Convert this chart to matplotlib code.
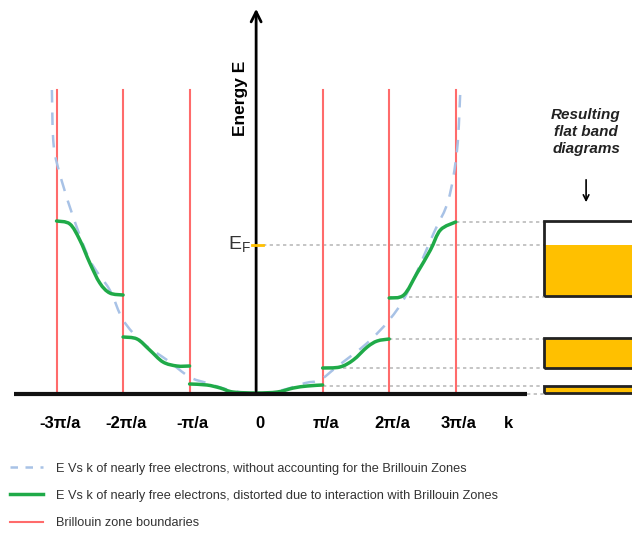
import matplotlib
matplotlib.use("Agg")
import matplotlib.pyplot as plt
from matplotlib.lines import Line2D
from matplotlib.patches import Rectangle, PathPatch
from matplotlib.path import Path

# k in units of pi/a, E in arbitrary units (0 = bottom of the band)
free_k = [-3.07, -3.05, -2.98, -2.77, -2.50, -2.20, -2.00, -1.70, -1.34, -1.00, -0.74, -0.40, 0.0,
          0.40, 0.74, 0.96, 1.21, 1.67, 2.00, 2.27, 2.67, 2.89, 3.02, 3.07]
free_E = [304, 254, 227, 181, 134, 104, 74, 51, 34, 17, 11, 4, 0,
          4, 11, 14, 27, 51, 74, 101, 161, 194, 244, 304]

bands = [
    ([-3.0, -2.8, -2.65, -2.5, -2.35, -2.2, -2.0], [173, 170, 154, 131, 111, 101, 99]),
    ([-2.0, -1.79, -1.6, -1.4, -1.19, -1.0], [57, 55, 44, 32, 28, 28]),
    ([-1.0, -0.74, -0.54, -0.35, 0.0, 0.32, 0.56, 0.77, 1.0], [10, 9, 6, 2, 1, 2, 6, 8, 9]),
    ([1.0, 1.26, 1.46, 1.67, 1.82, 2.0], [26, 27, 34, 47, 53, 55]),
    ([2.0, 2.22, 2.42, 2.62, 2.77, 3.0], [96, 99, 121, 144, 164, 172]),
]

zone_k = [-3, -2, -1, 1, 2, 3]
zone_top = 304

tick_k = [-3, -2, -1, 0, 1, 2, 3]
tick_labels = ["-3π/a", "-2π/a", "-π/a", "0", "π/a", "2π/a", "3π/a"]

E_fermi = 149
# gray guide lines: (level, start k)
guides = [(172, 3.0), (149, 0.1), (97, 2.0), (55, 2.0), (26, 1.0), (8, 1.0)]
# flat band boxes: (bottom, top, filled up to)
flat_bands = [(98, 173, 149), (26, 56, 56), (1, 8, 8)]

font = "Liberation Sans"


def smooth_path(xs, ys):
    # cubic bezier segments through the read points (Catmull-Rom tangents)
    pts = list(zip(xs, ys))
    verts = [pts[0]]
    codes = [Path.MOVETO]
    n = len(pts)
    for i in range(n - 1):
        p0 = pts[max(i - 1, 0)]
        p1 = pts[i]
        p2 = pts[i + 1]
        p3 = pts[min(i + 2, n - 1)]
        c1 = (p1[0] + (p2[0] - p0[0]) / 6, p1[1] + (p2[1] - p0[1]) / 6)
        c2 = (p2[0] - (p3[0] - p1[0]) / 6, p2[1] - (p3[1] - p1[1]) / 6)
        verts += [c1, c2, p2]
        codes += [Path.CURVE4] * 3
    return Path(verts, codes)


fig = plt.figure(figsize=(6.32, 5.45), dpi=100)
ax = fig.add_axes([0, 0, 1, 1])
ax.set_xlim(-3.85, 5.65)
ax.set_ylim(-151, 394)

red = "#ff6b6b"
green = "#1faa48"
blue = "#a8c2e6"
orange = "#ffc000"

for k in zone_k:
    ax.plot([k, k], [0, zone_top], color=red, lw=1.5, zorder=2)

ax.add_patch(PathPatch(smooth_path(free_k, free_E), fill=False, edgecolor=blue, lw=1.8,
                       linestyle=(0, (5, 4)), zorder=3))
for bk, bE in bands:
    ax.add_patch(PathPatch(smooth_path(bk, bE), fill=False, edgecolor=green, lw=2.5,
                           capstyle="round", zorder=4))

box_x = 4.32
for lvl, k0 in guides:
    ax.plot([k0, box_x], [lvl, lvl], color="#bbbbbb", lw=1.2, ls=(0, (2, 2)), zorder=1)
ax.plot([4.07, box_x], [0, 0], color="#bbbbbb", lw=1.2, ls=(0, (2, 2)), zorder=1)

for lo, hi, fill in flat_bands:
    ax.add_patch(Rectangle((box_x, lo), 2, fill - lo, facecolor=orange, edgecolor="none", zorder=2))
    ax.add_patch(Rectangle((box_x, lo), 2, hi - lo, facecolor="none", edgecolor="#222222", lw=2, zorder=3))

# axes: baseline and energy arrow
ax.plot([-3.64, 4.07], [0, 0], color="#111111", lw=3, zorder=5, solid_capstyle="butt")
ax.annotate("", xy=(0, 388), xytext=(0, 0),
            arrowprops=dict(arrowstyle="->", lw=2, color="black", mutation_scale=18), zorder=5)
ax.text(-0.23, 296, "Energy E", rotation=90, ha="center", va="center",
        fontsize=12.5, fontweight="bold", family=font)

ax.plot([-0.06, 0.1], [E_fermi, E_fermi], color=orange, lw=2, zorder=6)
ax.text(-0.08, E_fermi, r"E$_\mathregular{F}$", ha="right", va="center", fontsize=14,
        family=font, color="#333333")

for k, lab in zip(tick_k, tick_labels):
    ax.text(k + 0.05, -29, lab, ha="center", va="center", fontsize=12, fontweight="bold", family=font)
ax.text(3.79, -29, "k", ha="center", va="center", fontsize=12, fontweight="bold", family=font)

ax.text(4.96, 262, "Resulting\nflat band\ndiagrams", ha="center", va="center", fontsize=11,
        fontweight="bold", fontstyle="italic", family=font, linespacing=1.25, color="#222222")
ax.annotate("", xy=(4.96, 189), xytext=(4.96, 217),
            arrowprops=dict(arrowstyle="->", lw=1.2, color="black"))

handles = [
    Line2D([], [], color=blue, lw=1.8, dashes=(3, 3)),
    Line2D([], [], color=green, lw=2.5),
    Line2D([], [], color=red, lw=1.5),
]
labels = [
    "E Vs k of nearly free electrons, without accounting for the Brillouin Zones",
    "E Vs k of nearly free electrons, distorted due to interaction with Brillouin Zones",
    "Brillouin zone boundaries",
]
fig.legend(handles, labels, loc="upper left", bbox_to_anchor=(0.0, 0.17), frameon=False,
           prop={"family": font, "size": 9.2}, handlelength=2.6, handletextpad=1.0,
           labelspacing=1.2, borderaxespad=0.4, labelcolor="#333333")

ax.axis("off")
fig.savefig("out.png", dpi=100)
